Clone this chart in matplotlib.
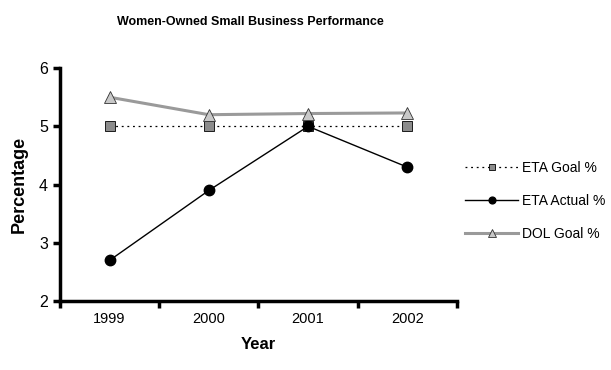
import matplotlib
matplotlib.use('Agg')
import matplotlib.pyplot as plt

plt.rcParams['font.family'] = ['Liberation Sans', 'DejaVu Sans']

years = ['1999', '2000', '2001', '2002']
eta_goal = [5.0, 5.0, 5.0, 5.0]
eta_actual = [2.7, 3.9, 5.0, 4.3]
dol_goal = [5.5, 5.2, 5.22, 5.23]

fig = plt.figure(figsize=(6.11, 3.70), dpi=100)
ax = fig.add_axes([0.098, 0.186, 0.650, 0.630])

x = range(1, len(years) + 1)
ax.plot(x, eta_goal, linestyle=(0, (1.5, 3)), color='black', linewidth=0.9,
        marker='s', markersize=7, markerfacecolor='#8c8c8c', markeredgecolor='black',
        markeredgewidth=0.6, label='ETA Goal %', zorder=3)
ax.plot(x, eta_actual, color='black', linewidth=1.0,
        marker='o', markersize=7.5, markerfacecolor='black', markeredgecolor='black',
        label='ETA Actual %', zorder=4)
ax.plot(x, dol_goal, color='#9a9a9a', linewidth=2.2,
        marker='^', markersize=9, markerfacecolor='#c8c8c8', markeredgecolor='#333333',
        markeredgewidth=0.6, label='DOL Goal %', zorder=5)

ax.set_xlim(0.5, 4.5)
ax.set_ylim(2, 6)
ax.set_yticks([2, 3, 4, 5, 6])
# category labels centred, tick marks between categories
ax.set_xticks(list(x))
ax.set_xticklabels(years)
ax.tick_params(axis='x', which='major', length=0, pad=8, labelsize=10.5)
ax.set_xticks([0.5, 1.5, 2.5, 3.5, 4.5], minor=True)
ax.tick_params(axis='x', which='minor', length=5, width=2.5, direction='out')
ax.tick_params(axis='y', length=5, width=2.5, direction='out', labelsize=11.5)

for side in ['top', 'right']:
    ax.spines[side].set_visible(False)
for side in ['left', 'bottom']:
    ax.spines[side].set_linewidth(2.5)

ax.set_xlabel('Year', fontsize=12, fontweight='bold', labelpad=8)
ax.set_ylabel('Percentage', fontsize=13, fontweight='bold', labelpad=8)
fig.text(0.41, 0.94, 'Women-Owned Small Business Performance', ha='center', va='center',
         fontsize=9, fontweight='bold')

ax.legend(loc='center left', bbox_to_anchor=(1.003, 0.43), frameon=False, fontsize=10,
          handlelength=3.8, labelspacing=1.35, handletextpad=0.3, borderpad=0,
          markerscale=0.65)

fig.savefig('out.png', dpi=100)
